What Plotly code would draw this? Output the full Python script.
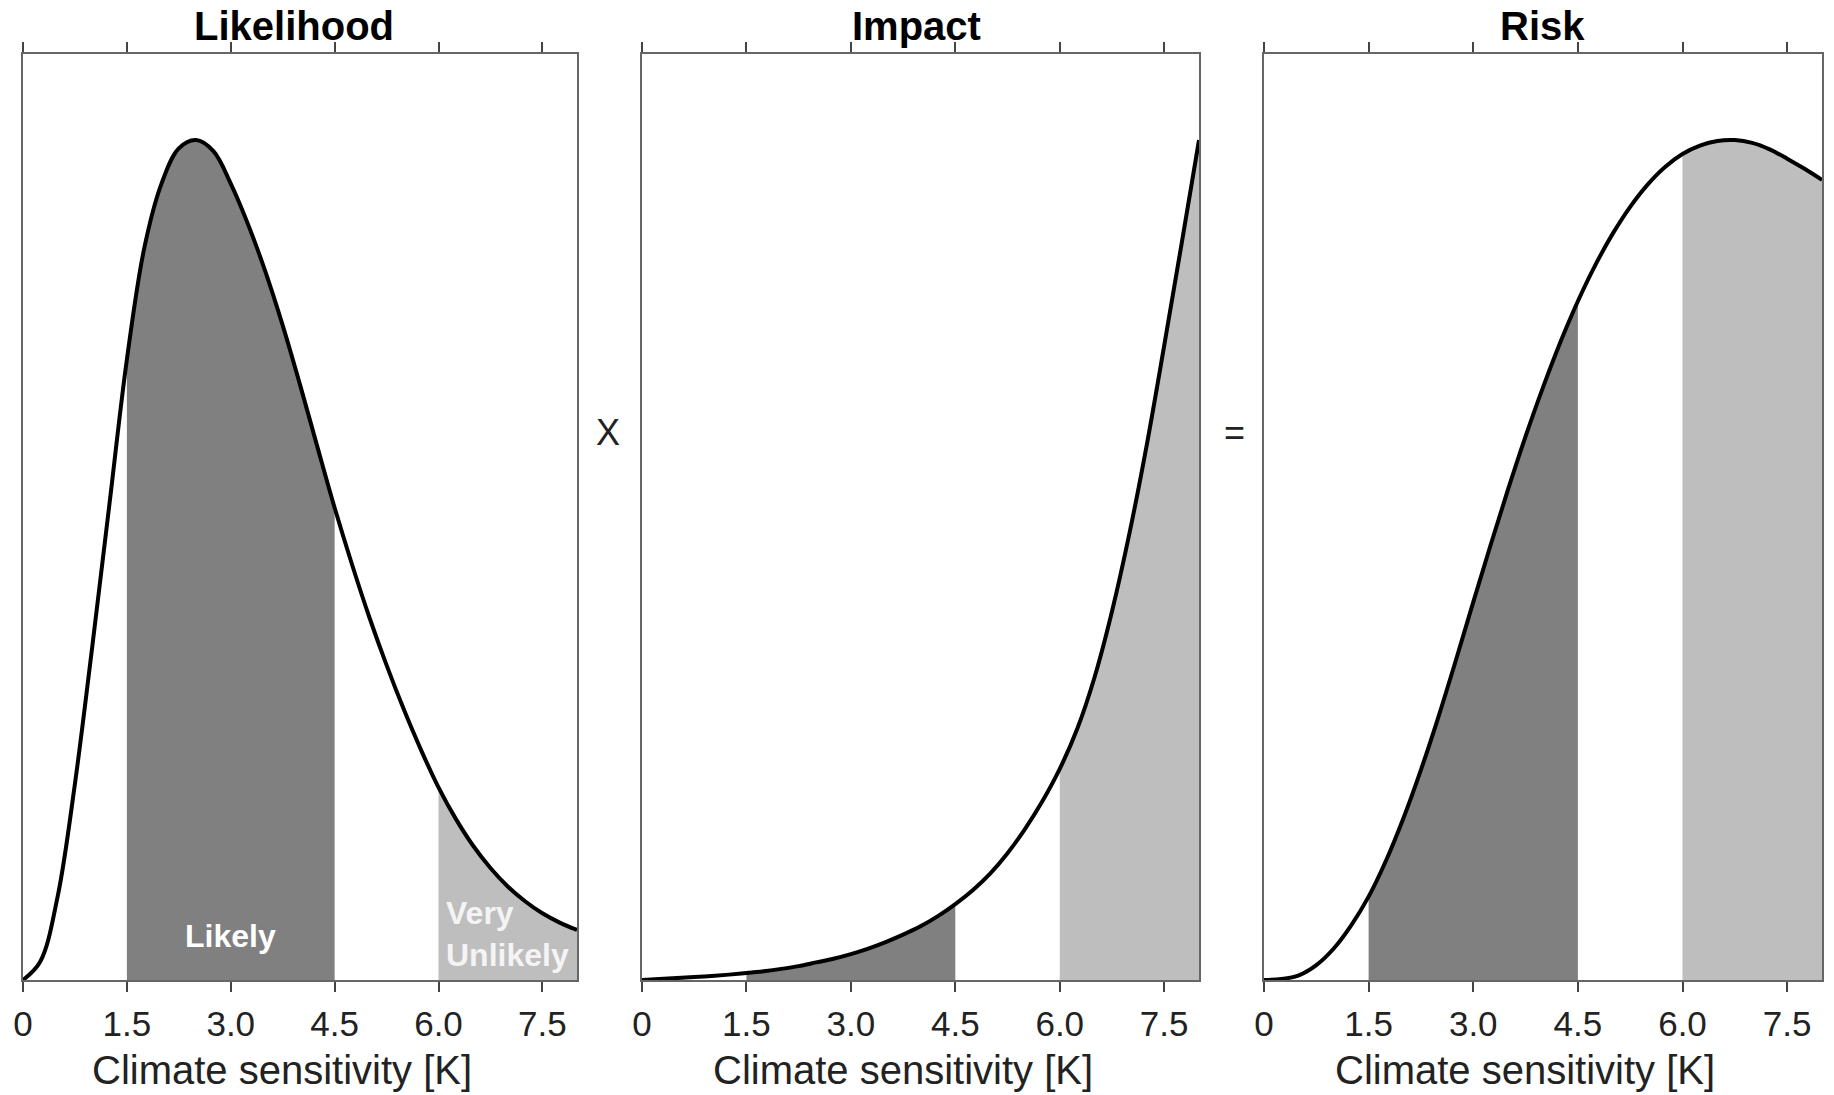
import plotly.graph_objects as go

# ---- data ----
x_vals = [0, 0.25, 0.5, 0.75, 1.0, 1.25, 1.5, 1.75, 2.0, 2.25, 2.5, 2.75, 3.0, 3.25,
          3.5, 3.75, 4.0, 4.25, 4.5, 4.75, 5.0, 5.25, 5.5, 5.75, 6.0, 6.25, 6.5, 6.75,
          7.0, 7.25, 7.5, 7.75, 8.0]

likelihood = [0, 0.02, 0.09, 0.212, 0.36, 0.515, 0.67, 0.79, 0.86, 0.898, 0.907,
              0.895, 0.86, 0.816, 0.765, 0.707, 0.643, 0.576, 0.51, 0.449, 0.392, 0.34,
              0.292, 0.248, 0.208, 0.174, 0.145, 0.121, 0.101, 0.085, 0.072, 0.062, 0.054]

impact = [0, 0.001, 0.0021, 0.0032, 0.0044, 0.0058, 0.0075, 0.0095, 0.012, 0.015, 0.019,
          0.023, 0.028, 0.034, 0.041, 0.049, 0.058, 0.069, 0.082, 0.097, 0.115, 0.137,
          0.163, 0.193, 0.228, 0.271, 0.327, 0.398, 0.482, 0.578, 0.685, 0.795, 0.907]

risk = [0, 0.001, 0.005, 0.016, 0.034, 0.059, 0.09, 0.129, 0.175, 0.227, 0.284, 0.345,
        0.408, 0.47, 0.53, 0.587, 0.64, 0.689, 0.733, 0.772, 0.806, 0.835, 0.859, 0.878,
        0.892, 0.901, 0.906, 0.907, 0.904, 0.897, 0.887, 0.876, 0.864]

panel_titles = ["Likelihood", "Impact", "Risk"]
likely_range = [1.5, 4.5]
unlikely_range = [6.0, 8.0]
tick_vals = [0, 1.5, 3.0, 4.5, 6.0, 7.5]
tick_text = ["0", "1.5", "3.0", "4.5", "6.0", "7.5"]
axis_title = "Climate sensitivity [K]"

# ---- layout geometry ----
W, H = 1834, 1095
x_domains = [[23 / W, 577 / W], [642 / W, 1199 / W], [1264 / W, 1822 / W]]
y_domain = [1 - 980 / H, 1 - 54 / H]
title_dx = [-6, -4, -1]          # title centre offsets from panel centre (px)
axis_title_dx = -18               # axis-title centre offset from panel centre (px)

DARK = "#808080"
LIGHT = "#bebebe"
FONT = "Liberation Sans, Arial, Helvetica, sans-serif"
SMOOTH = 1.0

fig = go.Figure()

series = [likelihood, impact, risk]
for i, ys in enumerate(series):
    xa = "x" if i == 0 else f"x{i+1}"
    ya = "y" if i == 0 else f"y{i+1}"
    for (lo, hi), col in [(likely_range, DARK), (unlikely_range, LIGHT)]:
        sx = [x for x in x_vals if lo <= x <= hi]
        sy = [y for x, y in zip(x_vals, ys) if lo <= x <= hi]
        fig.add_trace(go.Scatter(x=sx, y=sy, mode="lines", fill="tozeroy",
                                 fillcolor=col,
                                 line=dict(width=0, shape="spline", smoothing=SMOOTH, color=col),
                                 xaxis=xa, yaxis=ya, hoverinfo="skip", showlegend=False))
    fig.add_trace(go.Scatter(x=x_vals, y=ys, mode="lines",
                             line=dict(color="black", width=4, shape="spline", smoothing=SMOOTH),
                             xaxis=xa, yaxis=ya, showlegend=False))

layout = dict(
    width=W, height=H,
    margin=dict(l=0, r=0, t=0, b=0, autoexpand=False),
    paper_bgcolor="white", plot_bgcolor="white",
    font=dict(family=FONT, color="#222"),
)
for i in range(3):
    suffix = "" if i == 0 else str(i + 1)
    layout["xaxis" + suffix] = dict(
        domain=x_domains[i], range=[0, 8], anchor="y" + suffix, automargin=False,
        tickvals=tick_vals, ticktext=tick_text,
        ticks="outside", ticklen=10, tickwidth=2, tickcolor="#444",
        showline=True, linecolor="#666", linewidth=2, mirror="ticks",
        showgrid=False, zeroline=False,
        tickfont=dict(size=35, color="#222", family=FONT),
        ticklabelstandoff=2,
    )
    layout["yaxis" + suffix] = dict(
        domain=y_domain, range=[0, 1], anchor="x" + suffix, automargin=False,
        showline=True, linecolor="#666", linewidth=2, mirror=True,
        showticklabels=False, ticks="", showgrid=False, zeroline=False,
    )
fig.update_layout(**layout)

annotations = []
for i, t in enumerate(panel_titles):
    cx = sum(x_domains[i]) / 2
    annotations.append(dict(text=f"<b>{t}</b>", x=cx + title_dx[i] / W, y=1 - 26 / H,
                            xref="paper", yref="paper", showarrow=False,
                            font=dict(size=40, color="black", family=FONT),
                            xanchor="center", yanchor="middle"))
    annotations.append(dict(text=axis_title, x=cx + axis_title_dx / W, y=1 - 1070 / H,
                            xref="paper", yref="paper", showarrow=False,
                            font=dict(size=40, color="#222", family=FONT),
                            xanchor="center", yanchor="middle"))
annotations.append(dict(text="X", x=608 / W, y=1 - 433 / H, xref="paper", yref="paper",
                        xanchor="center", yanchor="middle",
                        showarrow=False, font=dict(size=36, color="#222", family=FONT)))
annotations.append(dict(text="=", x=1234 / W, y=1 - 433 / H, xref="paper", yref="paper",
                        xanchor="center", yanchor="middle",
                        showarrow=False, font=dict(size=36, color="#222", family=FONT)))
annotations.append(dict(text="<b>Likely</b>", x=3.0, y=0.048, xref="x", yref="y",
                        xanchor="center", yanchor="middle",
                        showarrow=False, font=dict(size=32, color="white", family=FONT)))
annotations.append(dict(text="<b>Very<br>Unlikely</b>", x=6.08, y=0.05, xref="x", yref="y",
                        xanchor="left", yanchor="middle", align="left", showarrow=False,
                        font=dict(size=32, color="#f4f4f4", family=FONT)))
fig.update_layout(annotations=annotations)

fig.write_html("out.html", config={"displayModeBar": False},
               post_script="document.body.style.margin='0';")
